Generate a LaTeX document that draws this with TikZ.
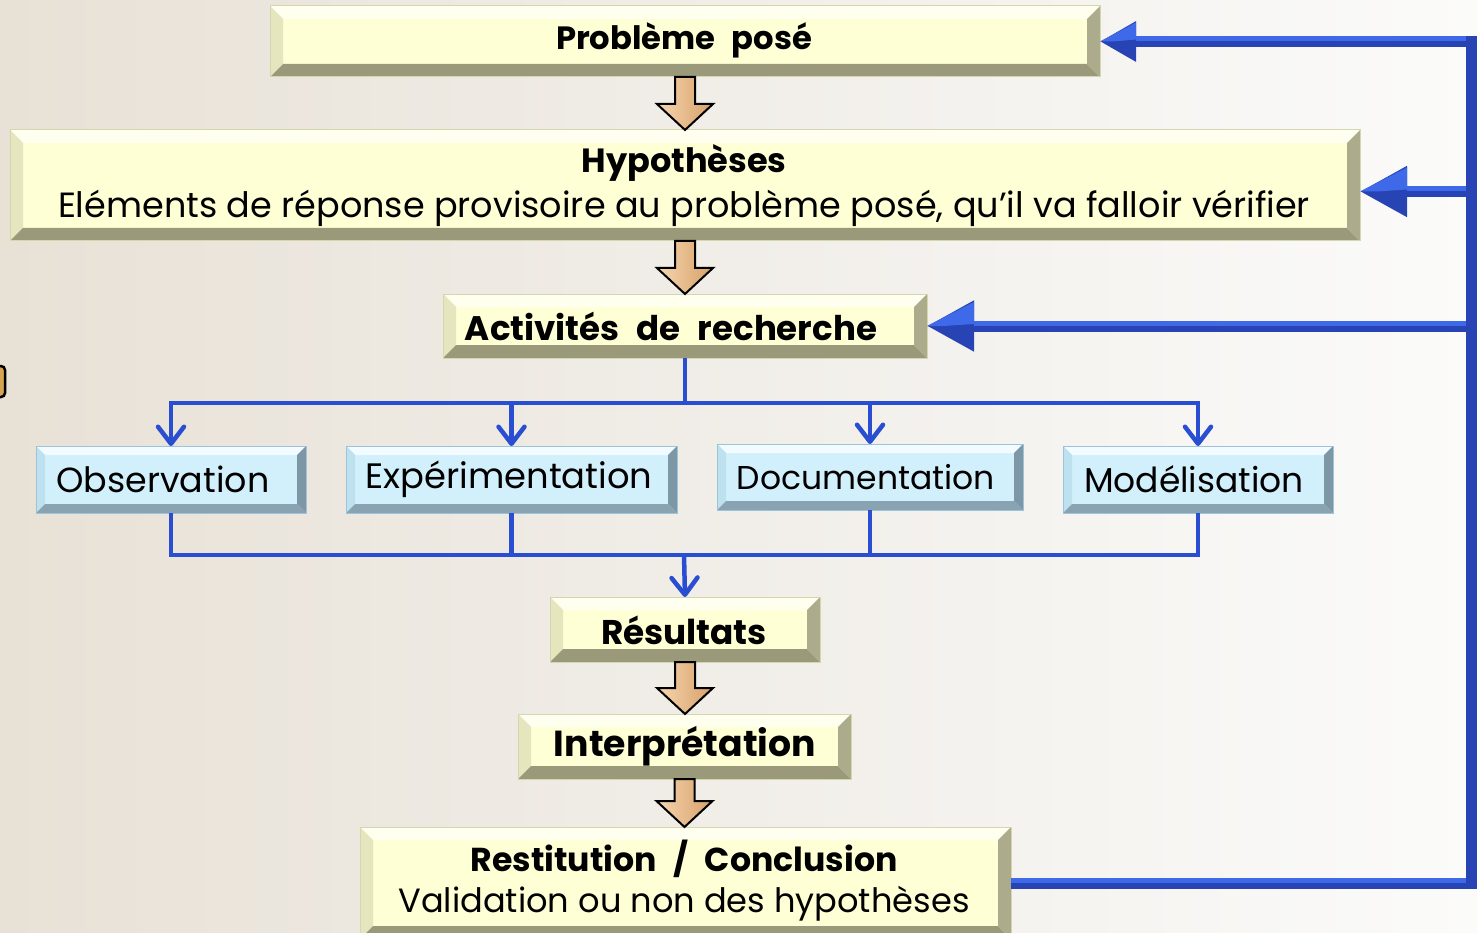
\documentclass[tikz,border=0pt]{standalone}
\usepackage{graphicx}
\usepackage{fontspec}
\setmainfont{Poppins}
\usetikzlibrary{calc,arrows.meta}
\definecolor{bgL}{HTML}{E8E1D6}
\definecolor{bgM}{HTML}{F1EEE9}
\definecolor{bgR}{HTML}{FBFBFA}
\definecolor{yFace}{HTML}{FFFFD6}
\definecolor{yTop}{HTML}{FFFFF0}
\definecolor{yLeft}{HTML}{E6E6BE}
\definecolor{yBot}{HTML}{9A9A7A}
\definecolor{yRight}{HTML}{ACAC8C}
\definecolor{yLine}{HTML}{D6D6AE}
\definecolor{bFace}{HTML}{D2F0FB}
\definecolor{bTop}{HTML}{F2FBFF}
\definecolor{bLeft}{HTML}{BDE1EE}
\definecolor{bBot}{HTML}{8AA3B2}
\definecolor{bRight}{HTML}{7D97A6}
\definecolor{bLine}{HTML}{9CC3D8}
\definecolor{fbBlue}{HTML}{2743B4}
\definecolor{fbHi}{HTML}{3E6AEA}
\definecolor{lnBlue}{HTML}{2A4ED2}
\definecolor{tanL}{HTML}{F7D6AE}
\definecolor{tanR}{HTML}{D6A06A}
\definecolor{oddBox}{HTML}{D6A550}
\newcommand{\fitw}[2]{\resizebox{#1pt}{!}{#2}}
\newcommand{\bevel}[7]{%
  \fill[#3] (#1.north west) -- (#1.north east) -- ($(#1.north east)+(-#2,#2)$) -- ($(#1.north west)+(#2,#2)$) -- cycle;
  \fill[#4] (#1.north west) -- ($(#1.north west)+(#2,#2)$) -- ($(#1.south west)+(#2,-#2)$) -- (#1.south west) -- cycle;
  \fill[#5] (#1.south west) -- ($(#1.south west)+(#2,-#2)$) -- ($(#1.south east)+(-#2,-#2)$) -- (#1.south east) -- cycle;
  \fill[#6] (#1.north east) -- ($(#1.north east)+(-#2,#2)$) -- ($(#1.south east)+(-#2,-#2)$) -- (#1.south east) -- cycle;
  \draw[#7, line width=1pt] (#1.north west) rectangle (#1.south east);
}
\newcommand{\ybevel}[1]{\bevel{#1}{13}{yTop}{yLeft}{yBot}{yRight}{yLine}}
\newcommand{\bbevel}[1]{\bevel{#1}{9}{bTop}{bLeft}{bBot}{bRight}{bLine}}
\newcommand{\tanarrow}[2]{%
  \draw[tanshape] ($(#1.south)+(-10,0)$) -- ($(#1.south |- #2.north)+(-10,-26)$) -- ($(#1.south |- #2.north)+(-28,-26)$) -- (#1.south |- #2.north) -- ($(#1.south |- #2.north)+(28,-26)$) -- ($(#1.south |- #2.north)+(10,-26)$) -- ($(#1.south)+(10,0)$) -- cycle;
}
% upper-half highlight of a big blue triangle tip: #1 tip point, #2 length, #3 half width
\newcommand{\tiphi}[3]{%
  \fill[fbHi] (#1) -- ($(#1)+(#2,-#3)$) -- ($(#1)+(#2,-2)$) -- ($(#1)+(0.35*#2,0)$) -- cycle;
}
\begin{document}
\begin{tikzpicture}[x=1pt,y=-1pt,
  ybox/.style={inner sep=0pt, outer sep=0pt, fill=yFace, draw=none},
  bbox/.style={inner sep=0pt, outer sep=0pt, fill=bFace, draw=none},
  txt/.style={inner sep=0pt, text=black},
  tanshape/.style={left color=tanL, right color=tanR, draw=black, line width=2pt, line join=miter},
  fb/.style={draw=fbBlue, line width=11pt, line join=miter},
  fbhl/.style={draw=fbHi, line width=5pt},
  fbtip/.style={-{Triangle[length=36pt,width=38pt]}},
  fbtipb/.style={-{Triangle[length=47pt,width=48pt]}},
  ln/.style={draw=lnBlue, line width=4.5pt, line join=miter},
  lntip/.style={-{Straight Barb[length=17pt,width=26pt,round]}}
]
\useasboundingbox (0,0) rectangle (1477,933);
\shade[left color=bgL, right color=bgR, middle color=bgM] (0,0) rectangle (1477,933);

% odd partial box at left edge
\draw[fill=oddBox, draw=black, line width=2.5pt, rounded corners=4pt] (-30,366) rectangle (5,397);

% boxes
\node[ybox, minimum width=830pt, minimum height=71pt] (prob) at (685,41.5) {};
\ybevel{prob}
\node[ybox, minimum width=1350pt, minimum height=111pt] (hyp) at (685,185.5) {};
\ybevel{hyp}
\node[ybox, minimum width=484pt, minimum height=64pt] (act) at (685,326) {};
\ybevel{act}
\node[bbox, minimum width=270pt, minimum height=67pt] (obs) at (171,479.5) {};
\bbevel{obs}
\node[bbox, minimum width=331pt, minimum height=67pt] (exp) at (511.5,479.5) {};
\bbevel{exp}
\node[bbox, minimum width=306pt, minimum height=66pt] (doc) at (870,477) {};
\bbevel{doc}
\node[bbox, minimum width=270pt, minimum height=67pt] (mod) at (1198,479.5) {};
\bbevel{mod}
\node[ybox, minimum width=270pt, minimum height=65pt] (res) at (685,629.5) {};
\ybevel{res}
\node[ybox, minimum width=333pt, minimum height=65pt] (int) at (684.5,746.5) {};
\ybevel{int}
\node[ybox, minimum width=651pt, minimum height=112pt] (rest) at (685.5,883) {};
\ybevel{rest}

% texts
\node[txt] (probt) at (684,40) {\fitw{256}{\bfseries Problème\enspace posé}};
\node[txt] (hypt) at (684,163) {\fitw{205}{\bfseries Hypothèses}};
\node[txt] (hyps) at (684,208) {\fitw{1252}{Eléments de réponse provisoire au problème posé, qu’il va falloir vérifier}};
\node[txt] (actt) at (671,326) {\fitw{412}{\bfseries Activités\enspace de\enspace recherche}};
\node[txt] (obst) at (163,479) {\fitw{213}{Observation}};
\node[txt] (expt) at (509,479) {\fitw{287}{Expérimentation}};
\node[txt] (doct) at (866,477) {\fitw{258}{Documentation}};
\node[txt] (modt) at (1194,479) {\fitw{220}{Modélisation}};
\node[txt] (rest1) at (684,630) {\fitw{166}{\bfseries Résultats}};
\node[txt] (intt) at (685,746) {\fitw{262}{\bfseries Interprétation}};
\node[txt] (restt) at (684,859) {\fitw{427}{\bfseries Restitution\enspace/\enspace Conclusion}};
\node[txt] (rests) at (684,904) {\fitw{571}{Validation ou non des hypothèses}};

% tan arrows
\tanarrow{prob}{hyp}
\tanarrow{hyp}{act}
\tanarrow{res}{int}
\tanarrow{int}{rest}

% thin blue connectors
\coordinate (split) at ($(act.south)+(0,45)$);
\coordinate (merge) at (684,555);
\draw[ln] (act.south) -- (split);
\draw[ln, lntip] (split) -| (obs.north);
\draw[ln, lntip] (split) -| (exp.north);
\draw[ln, lntip] (split) -| (doc.north);
\draw[ln, lntip] (split) -| (mod.north);
\draw[ln] (obs.south) |- (merge);
\draw[ln] (exp.south) |- (merge);
\draw[ln] (doc.south) |- (merge);
\draw[ln] (mod.south) |- (merge);
\draw[ln, lntip] (merge) -- (res.north);

% feedback loop
\coordinate (rt) at (1471,41.5);
\coordinate (rb) at (1471,883);
\coordinate (hypin) at ($(hyp.east)+(0,6)$);
\draw[fb, fbtip] (rest.east) -- (rb) -- (rt) -- (prob.east);
\draw[fb, fbtipb] (rt |- hypin) -- (hypin);
\draw[fb, fbtipb] (rt |- act.east) -- (act.east);
% highlights (upper halves)
\draw[fbhl] ($(rest.east)+(0,-2.75)$) -- ($(rb)+(-5.5,-2.75)$);
\draw[fbhl] ($(prob.east)+(36,-2.75)$) -- ($(rt)+(-5.5,-2.75)$);
\draw[fbhl] ($(hypin)+(47,-2.75)$) -- ($(rt |- hypin)+(-5.5,-2.75)$);
\draw[fbhl] ($(act.east)+(47,-2.75)$) -- ($(rt |- act.east)+(-5.5,-2.75)$);
\tiphi{prob.east}{36}{19}
\tiphi{hypin}{47}{24}
\tiphi{act.east}{47}{24}
\end{tikzpicture}
\end{document}
